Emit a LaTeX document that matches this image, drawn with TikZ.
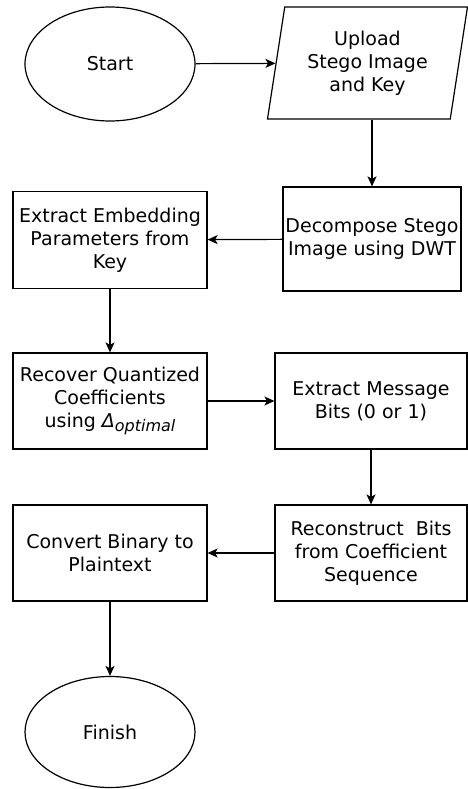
\documentclass[tikz,border=0pt]{standalone}
\usepackage{fontspec}
\setmainfont{DejaVu Sans}
\usetikzlibrary{shapes.geometric}
\usetikzlibrary{arrows.meta}
\usetikzlibrary{positioning}

\newcommand{\deltaopt}{{\itshape Δ\raisebox{-4pt}{\fontsize{16}{19}\selectfont optimal}}}

\begin{document}
\begin{tikzpicture}[x=1pt,y=-1pt,
    font=\fontsize{19}{23}\selectfont,
    terminal/.style={ellipse, draw, line width=1.2pt, minimum width=170pt, minimum height=114pt, inner sep=0pt},
    process/.style={rectangle, draw, line width=1.2pt, align=center, inner sep=2pt},
    io/.style={trapezium, trapezium left angle=75, trapezium right angle=105, trapezium stretches body, draw, line width=1.2pt, align=center, minimum width=200pt, minimum height=112pt, inner sep=0pt},
    flow/.style={line width=1.2pt, -{Stealth[length=10pt,width=9pt,inset=2.5pt]}}]
    % Fix the page size
    \useasboundingbox (0,0) rectangle (468,789);

    % Define nodes
    \node[terminal] (start) at (110,64) {Start};
    \node[io] (upload) at (367.5,63) {Upload\\Stego Image\\and Key};
    \node[process, minimum width=178pt, minimum height=104pt] (decomp) at (372,239) {Decompose Stego\\Image using DWT};
    \node[process, minimum width=194pt, minimum height=97pt] (params) at (110,240) {Extract Embedding\\Parameters from\\Key};
    \node[process, minimum width=194pt, minimum height=96pt] (recover) at (110,401) {Recover Quantized\\Coefficients\\using \deltaopt};
    \node[process, minimum width=192pt, minimum height=96pt] (message) at (371,401) {Extract Message\\Bits (0 or 1)};
    \node[process, minimum width=192pt, minimum height=96pt] (rebuild) at (371,553) {Reconstruct\ \ Bits\\from Coefficient\\Sequence};
    \node[process, minimum width=194pt, minimum height=96pt] (convert) at (110,553) {Convert Binary to\\Plaintext};
    \node[terminal, minimum height=111pt] (finish) at (110,732) {Finish};

    % Draw arrows
    \draw[flow] (start) -- (upload);
    \draw[flow] (decomp.north |- upload.south) -- (decomp);
    \draw[flow] (decomp) -- (params);
    \draw[flow] (params) -- (recover);
    \draw[flow] (recover) -- (message);
    \draw[flow] (message.south -| rebuild.north) -- (rebuild);
    \draw[flow] (rebuild) -- (convert);
    \draw[flow] (convert) -- (finish);
\end{tikzpicture}
\end{document}
